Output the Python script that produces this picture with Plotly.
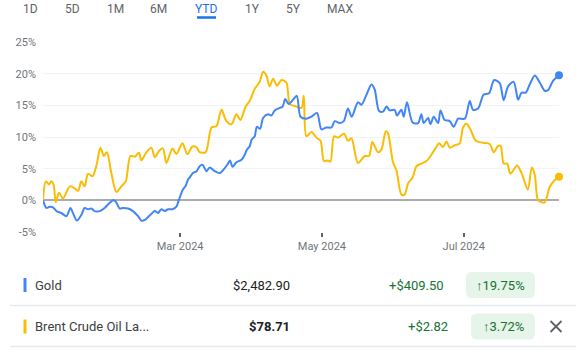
import pandas as pd
import plotly.graph_objects as go

# ---------------- data ----------------
start_date = "2024-01-02"

gold_day = [0, 1.5, 2.9, 4.3, 5.8, 7.9, 10.1, 11.8, 12.9, 14.6, 16.5, 17.9, 19.4, 20.8, 22.2,
            24.4, 26.5, 28.7, 30.1, 31.3, 33.0, 34.4, 36.6, 38.7, 40.9, 42.3, 43.8, 45.9, 48.1,
            49.5, 50.9, 52.4, 53.8, 55.7, 57.4, 58.5, 60.2, 61.4, 62.4, 63.1, 64.5, 66.1, 67.4,
            68.7, 70.3, 71.7, 73.9, 76.0, 78.2, 79.6, 80.5, 81.5, 83.2, 85.4, 86.8, 87.7, 88.9,
            89.8, 91.1, 92.0, 93.4, 94.7, 96.8, 98.3, 99.7, 101.9, 103.1, 104.2, 105.7, 107.6,
            109.2, 110.8, 113.3, 115.5, 117.9, 119.8, 121.9, 124.1, 125.5, 127.7, 129.4, 131.2,
            132.8, 135.5, 137.0, 139.2, 141.3, 142.7, 144.6, 146.3, 147.8, 149.2, 151.3, 152.3,
            154.2, 155.2, 156.6, 159.0, 161.4, 162.8, 163.8, 165.7, 166.7, 168.1, 170.0, 171.0,
            172.8, 175.0, 176.7, 178.6, 181.5, 183.6, 185.0, 187.2, 189.6, 191.9, 194.1, 196.5,
            198.2, 200.1, 202.5, 204.4, 205.9, 207.7, 209.4, 211.6, 213.7, 215.9, 217.3, 219.5,
            222.0]
gold_pct = [0, -1.2, -1.0, -1.1, -1.7, -2.0, -2.5, -1.2, -2.0, -3.2, -2.3, -1.2, -1.4, -1.3, -1.7,
            -1.7, -1.2, -0.4, 0.0, -0.2, -1.3, -1.2, -1.3, -1.7, -2.5, -3.2, -3.1, -2.4, -1.7,
            -2.0, -1.4, -1.7, -1.4, -1.4, -1.0, 0.1, 1.7, 2.3, 3.3, 3.6, 4.3, 4.6, 5.4,
            5.6, 4.6, 5.2, 4.6, 4.3, 5.1, 5.8, 6.3, 5.3, 6.0, 6.4, 7.2, 8.0, 8.5,
            9.6, 10.1, 11.6, 11.3, 13.0, 13.6, 13.4, 14.2, 14.6, 14.8, 16.0, 15.2, 15.9,
            16.5, 13.2, 12.9, 13.2, 13.8, 11.2, 11.5, 11.5, 12.5, 12.2, 12.5, 14.5,
            13.2, 15.5, 15.1, 16.7, 18.3, 17.5, 14.1, 14.0, 14.8, 14.2, 14.3, 13.4,
            14.3, 13.2, 15.5, 12.3, 12.2, 13.6, 12.2, 13.0, 12.0, 13.2, 12.2, 14.2,
            12.7, 12.5, 11.6, 12.9, 12.9, 15.7, 14.3, 14.5, 16.7, 16.9, 19.0, 18.5,
            15.8, 18.0, 18.7, 15.9, 17.0, 17.0, 18.3, 19.7, 18.6, 17.3, 17.4, 18.9,
            19.75]

oil_day = [0, 1.2, 2.6, 3.6, 4.6, 5.5, 6.9, 8.6, 11.5, 13.6, 15.1, 16.5, 17.9, 19.4, 21.3, 23.0,
           24.7, 26.2, 27.5, 29.4, 31.6, 33.7, 35.6, 37.6, 39.5, 41.3, 42.3, 44.5, 46.6, 48.1,
           49.9, 51.6, 53.1, 55.7, 57.4, 60.0, 62.1, 64.3, 66.0, 67.4, 70.0, 72.5, 74.6, 76.8,
           78.9, 81.1, 83.2, 84.9, 87.2, 88.9, 91.1, 93.2, 94.7, 96.1, 97.5, 99.0, 100.7,
           102.6, 104.7, 106.2, 108.3, 111.2, 112.2, 113.3, 115.5, 117.6, 119.4, 120.9,
           122.6, 123.7, 125.2, 126.9, 129.5, 131.2, 132.7, 135.5, 138.4, 140.3, 141.7,
           144.1, 145.6, 147.5, 148.4, 150.6, 152.1, 154.2, 155.6, 157.1, 159.0, 160.7,
           162.8, 165.0, 167.1, 169.0, 170.4, 172.1, 173.6, 175.0, 177.2, 179.3, 180.7,
           182.2, 183.9, 186.2, 189.3, 192.2, 193.9, 195.8, 196.9, 198.2, 199.7, 201.1,
           204.0, 205.9, 208.6, 210.3, 211.6, 212.9, 214.5, 215.9, 218.0, 220.2, 222.0]
oil_pct = [0, 3.0, 2.5, 3.0, 2.4, -0.3, 1.2, 0.3, 2.2, 1.9, 1.5, 3.0, 2.2, 4.2, 3.8, 5.5,
           8.3, 7.0, 7.6, 4.3, 1.3, 2.2, 3.0, 7.0, 6.9, 7.5, 6.3, 7.6, 8.3, 6.8,
           7.8, 8.2, 5.9, 8.2, 7.3, 9.0, 7.3, 8.5, 8.4, 7.6, 7.6, 11.5, 11.7, 14.3,
           12.5, 12.0, 13.6, 12.7, 14.8, 15.7, 17.6, 18.7, 20.3, 19.7, 18.0, 19.2, 18.1,
           19.0, 18.6, 15.2, 14.9, 14.6, 16.5, 10.1, 10.8, 9.9, 9.4, 6.2,
           6.3, 6.1, 10.1, 9.9, 10.5, 9.4, 9.8, 5.9, 7.0, 7.0, 9.2,
           7.6, 8.0, 10.9, 10.6, 6.0, 4.7, 0.9, 0.9, 2.7, 3.6, 5.4,
           5.8, 6.2, 7.2, 8.3, 9.0, 8.4, 9.3, 8.3, 8.7, 9.0, 11.5,
           12.1, 11.2, 9.4, 9.1, 8.9, 7.6, 8.6, 8.6, 5.8, 5.8, 4.2,
           5.5, 4.3, 1.7, 5.2, 4.0, 0.1, -0.3, -0.3, 2.1, 3.2, 3.72]

y_ticks = [-5, 0, 5, 10, 15, 20, 25]
y_tick_labels = ["-5%", "0%", "5%", "10%", "15%", "20%", "25%"]
x_ticks = ["2024-03-01", "2024-05-01", "2024-07-01"]
x_tick_labels = ["Mar 2024", "May 2024", "Jul 2024"]

range_tabs = ["1D", "5D", "1M", "6M", "YTD", "1Y", "5Y", "MAX"]
active_tab = "YTD"

names = ["Gold", "Brent Crude Oil La..."]
prices = ["$2,482.90", "$78.71"]
changes = ["+$409.50", "+$2.82"]
pct_changes = ["19.75%", "3.72%"]

BLUE = "#4285f4"
YELLOW = "#fbbc04"
colors = [BLUE, YELLOW]

# ---------------- figure ----------------
t0 = pd.Timestamp(start_date)
gold_dates = [t0 + pd.Timedelta(days=d) for d in gold_day]
oil_dates = [t0 + pd.Timedelta(days=d) for d in oil_day]

W, H = 580, 352
L, R, T, B = 43, 21, 42, 120
PW, PH = W - L - R, H - T - B


def px(x):
    return (x - L) / PW


def py(y):
    return (H - B - y) / PH


fig = go.Figure()
for dates, vals, col in [(oil_dates, oil_pct, YELLOW), (gold_dates, gold_pct, BLUE)]:
    fig.add_trace(go.Scatter(x=dates, y=vals, mode="lines",
                             line=dict(color=col, width=2, shape="spline", smoothing=0.8),
                             hoverinfo="skip", cliponaxis=False))
    fig.add_trace(go.Scatter(x=[dates[-1]], y=[vals[-1]], mode="markers",
                             marker=dict(color=col, size=8), hoverinfo="skip",
                             cliponaxis=False))

FONT = "Roboto, Arial, sans-serif"
fig.update_layout(
    width=W, height=H, margin=dict(l=L, r=R, t=T, b=B),
    paper_bgcolor="white", plot_bgcolor="white", showlegend=False,
    font=dict(family=FONT, size=11, color="#70757a"),
    xaxis=dict(range=[gold_dates[0], gold_dates[-1]], tickvals=x_ticks, ticktext=x_tick_labels,
               showgrid=False, zeroline=False, showline=False, ticks="outside", ticklen=4,
               tickwidth=1.5, tickcolor="#5f6368", tickfont=dict(size=11, color="#70757a"),
               fixedrange=True),
    yaxis=dict(range=[-5, 25], tickvals=y_ticks, ticktext=y_tick_labels, showgrid=True,
               gridcolor="#f1f3f4", gridwidth=1, zeroline=True, zerolinecolor="#a8abaf",
               zerolinewidth=2, showline=False, ticks="", ticklabelstandoff=6,
               tickfont=dict(size=11, color="#70757a"), fixedrange=True),
)

ann = []
shapes = []

# range tabs
tab_x = [30, 72, 115, 158, 206, 252, 293, 340]
for lab, x in zip(range_tabs, tab_x):
    act = lab == active_tab
    ann.append(dict(x=px(x), y=py(8.5), xref="paper", yref="paper", text=lab, showarrow=False,
                    xanchor="center", yanchor="middle",
                    font=dict(family=FONT, size=12, color="#1a73e8" if act else "#5f6368")))
shapes.append(dict(type="line", xref="paper", yref="paper", x0=px(197), x1=px(216),
                   y0=py(17.5), y1=py(17.5), line=dict(color="#1a73e8", width=2.5)))

# table rows
row_y = [285, 326.5]
div_y = [305.5, 346.5]
badge_x = [(466, 535), (471, 535)]
for i in range(2):
    y = row_y[i]
    shapes.append(dict(type="rect", xref="paper", yref="paper", x0=px(23.5), x1=px(26.5),
                       y0=py(y + 7), y1=py(y - 7), fillcolor=colors[i], line=dict(width=0)))
    ann.append(dict(x=px(33), y=py(y), xref="paper", yref="paper", text=names[i],
                    showarrow=False, xanchor="left", yanchor="middle",
                    font=dict(family=FONT, size=13, color="#3c4043")))
    ann.append(dict(x=px(292), y=py(y), xref="paper", yref="paper",
                    text=("<b>%s</b>" % prices[i]) if i == 1 else prices[i],
                    showarrow=False, xanchor="right", yanchor="middle",
                    font=dict(family=FONT, size=13, color="#202124")))
    ann.append(dict(x=px(446 if i == 0 else 450), y=py(y), xref="paper", yref="paper",
                    text=changes[i], showarrow=False, xanchor="right", yanchor="middle",
                    font=dict(family=FONT, size=13, color="#137333")))
    bx0, bx1 = badge_x[i]
    by0, by1 = y - 13, y + 13
    r = 6
    path = (f"M {px(bx0 + r)} {py(by0)} L {px(bx1 - r)} {py(by0)} "
            f"Q {px(bx1)} {py(by0)} {px(bx1)} {py(by0 + r)} L {px(bx1)} {py(by1 - r)} "
            f"Q {px(bx1)} {py(by1)} {px(bx1 - r)} {py(by1)} L {px(bx0 + r)} {py(by1)} "
            f"Q {px(bx0)} {py(by1)} {px(bx0)} {py(by1 - r)} L {px(bx0)} {py(by0 + r)} "
            f"Q {px(bx0)} {py(by0)} {px(bx0 + r)} {py(by0)} Z")
    shapes.append(dict(type="path", xref="paper", yref="paper", path=path,
                       fillcolor="#e6f4ea", line=dict(width=0)))
    ann.append(dict(x=px((bx0 + bx1) / 2), y=py(y), xref="paper", yref="paper",
                    text="↑" + pct_changes[i], showarrow=False, xanchor="center",
                    yanchor="middle", font=dict(family=FONT, size=13, color="#137333")))
    shapes.append(dict(type="line", xref="paper", yref="paper", x0=px(10), x1=px(576),
                       y0=py(div_y[i]), y1=py(div_y[i]), line=dict(color="#e8eaed", width=1.5)))

# close icon
cx, cy, s = 556, 326.5, 5.5
for a, b in [((cx - s, cy - s), (cx + s, cy + s)), ((cx - s, cy + s), (cx + s, cy - s))]:
    shapes.append(dict(type="line", xref="paper", yref="paper", x0=px(a[0]), y0=py(a[1]),
                       x1=px(b[0]), y1=py(b[1]), line=dict(color="#5f6368", width=1.8)))

fig.update_layout(annotations=ann, shapes=shapes)
fig.write_html("out.html", config={"displayModeBar": False})
